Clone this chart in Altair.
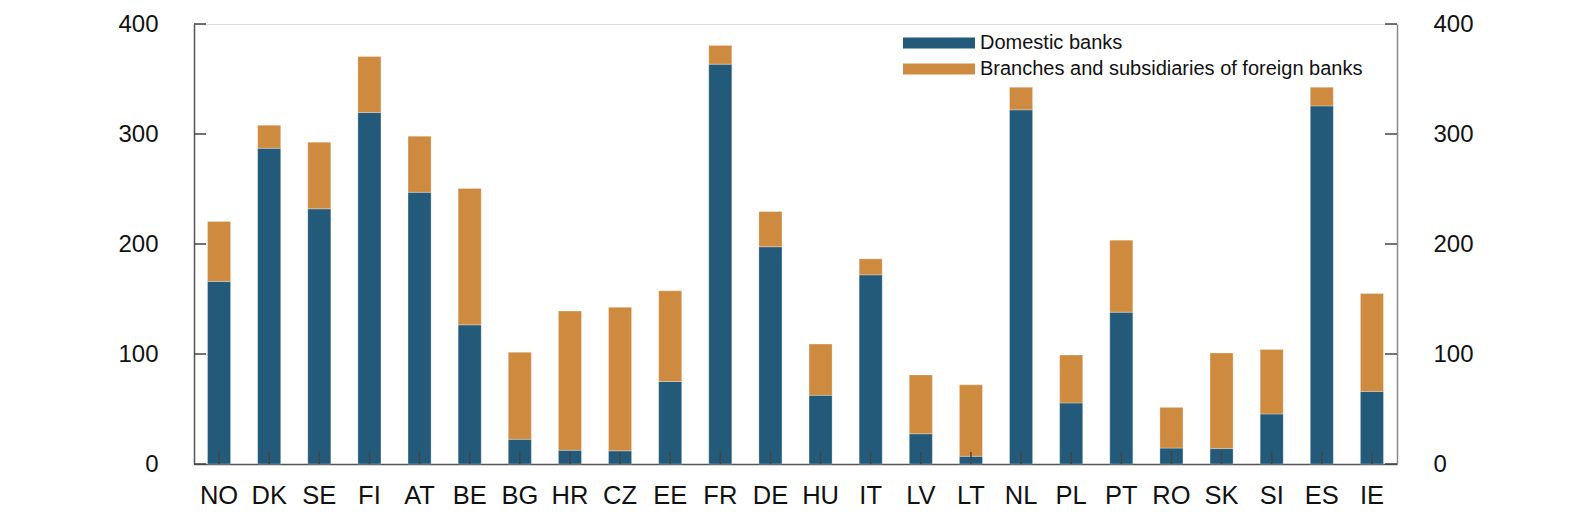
import altair as alt
import pandas as pd

countries = ["NO", "DK", "SE", "FI", "AT", "BE", "BG", "HR", "CZ", "EE", "FR", "DE",
             "HU", "IT", "LV", "LT", "NL", "PL", "PT", "RO", "SK", "SI", "ES", "IE"]
domestic = [166, 287, 232, 319.5, 247, 126.5, 22.5, 12.5, 12, 75, 363.5, 197.5,
            62.5, 172, 27.5, 7, 322, 55.5, 138, 14.5, 14, 45.5, 325.5, 66]
total = [220.5, 308, 292.5, 370.5, 298, 250.5, 101.5, 139, 142.5, 157.5, 380.5, 229.5,
         109, 186.5, 81, 72, 342.5, 99, 203.5, 51.5, 101, 104, 342.5, 155]
foreign = [round(t - d, 1) for t, d in zip(total, domestic)]

series_names = ["Domestic banks", "Branches and subsidiaries of foreign banks"]
series_colors = ["#235a79", "#ce8b40"]
y_ticks = [0, 100, 200, 300, 400]

rows = []
for c, d, f in zip(countries, domestic, foreign):
    rows.append({"country": c, "series": series_names[0], "value": d, "ord": 0})
    rows.append({"country": c, "series": series_names[1], "value": f, "ord": 1})
df = pd.DataFrame(rows)
ticks_df = pd.DataFrame({"v": y_ticks})
cat_df = pd.DataFrame({"country": countries})

W, H = 1203, 440
FONT = "Liberation Sans"

xscale = alt.Scale(domain=countries, paddingInner=0.54, paddingOuter=0.27)
yscale = alt.Scale(domain=[0, 400], nice=False)

x_axis = alt.Axis(title=None, labelAngle=0, ticks=False, labelPadding=19,
                  labelFontSize=25.5, labelFont=FONT, labelColor="#111",
                  domainColor="#555", domainWidth=1.5)

bars = alt.Chart(df).mark_bar(strokeWidth=0.8, strokeOpacity=0.35, stroke="#ffffff").encode(
    x=alt.X("country:N", scale=xscale, sort=countries, axis=x_axis),
    y=alt.Y("value:Q", scale=yscale, stack="zero",
            axis=alt.Axis(title=None, values=y_ticks, ticks=False, labelPadding=36,
                          labelFontSize=24, labelFont=FONT, labelColor="#111",
                          grid=False, domainColor="#555", domainWidth=1.5,
                          orient="left")),
    color=alt.Color("series:N", scale=alt.Scale(domain=series_names, range=series_colors),
                    legend=alt.Legend(title=None, orient="none", legendX=709, legendY=6,
                                      symbolType="M-1,-0.153L1,-0.153L1,0.153L-1,0.153Z",
                                      symbolSize=5184, symbolStrokeWidth=0,
                                      clipHeight=26, rowPadding=0, padding=0,
                                      labelOffset=5, labelFontSize=20, labelFont=FONT,
                                      labelColor="#111", labelLimit=600)),
    order=alt.Order("ord:Q", sort="ascending"),
)

right_axis = alt.Chart(ticks_df).mark_rule(opacity=0).encode(
    y=alt.Y("v:Q", scale=yscale,
            axis=alt.Axis(title=None, values=y_ticks, ticks=False, labelPadding=36,
                          labelFontSize=24, labelFont=FONT, labelColor="#111",
                          grid=False, domainColor="#888", domainWidth=1.5,
                          orient="right")),
    x=alt.value(0), x2=alt.value(1),
)

left_ticks = alt.Chart(ticks_df).mark_rule(color="#444", strokeWidth=1.5).encode(
    y=alt.Y("v:Q", scale=yscale, axis=None), x=alt.value(0), x2=alt.value(12)
)
right_ticks = alt.Chart(ticks_df).mark_rule(color="#444", strokeWidth=1.5).encode(
    y=alt.Y("v:Q", scale=yscale, axis=None), x=alt.value(W - 12), x2=alt.value(W)
)
x_ticks = alt.Chart(cat_df).mark_rule(color="#444", strokeWidth=1.5).encode(
    x=alt.X("country:N", scale=xscale, sort=countries, axis=x_axis),
    y=alt.value(H), y2=alt.value(H - 12)
)

chart = alt.layer(bars, right_axis, left_ticks, right_ticks, x_ticks).resolve_axis(
    y="independent"
).properties(
    width=W, height=H,
    padding={"left": 109, "top": 4, "right": 5, "bottom": 5},
).configure_view(stroke="#888", strokeWidth=1.5).configure(background="white")

chart.save("out.html", embed_options={"renderer": "svg", "actions": False})
